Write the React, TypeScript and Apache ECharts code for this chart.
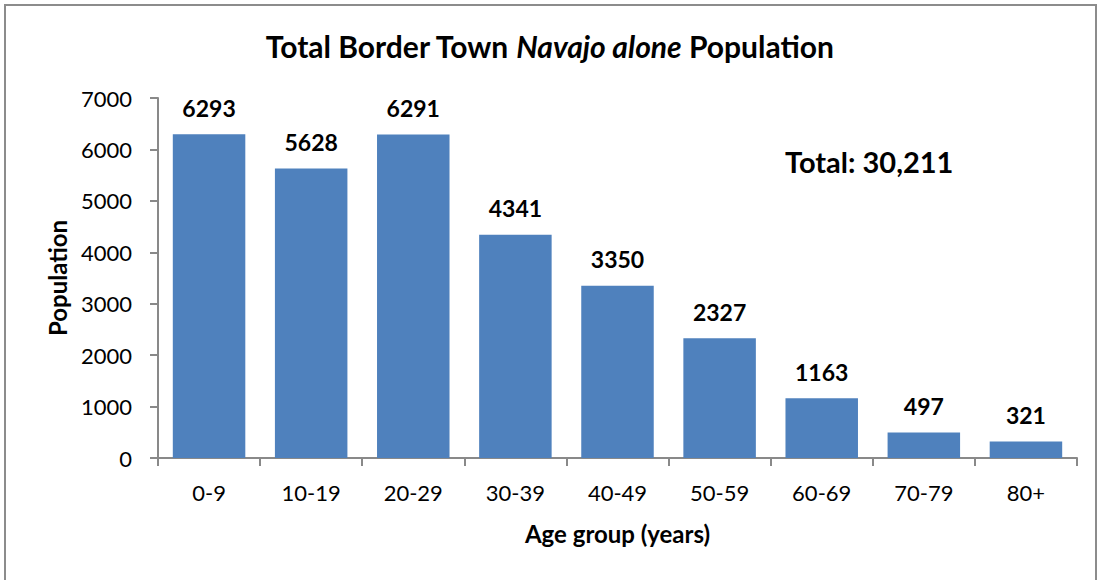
import React, { useEffect, useRef } from "react";
import * as echarts from "echarts";

const categories = ["0-9", "10-19", "20-29", "30-39", "40-49", "50-59", "60-69", "70-79", "80+"];
const population = [6293, 5628, 6291, 4341, 3350, 2327, 1163, 497, 321];
const yTicks = { min: 0, max: 7000, interval: 1000 };
const totalLabel = "Total: 30,211";

const FONT = "Lato, 'Open Sans', sans-serif";

export default function App() {
  const ref = useRef<HTMLDivElement>(null);
  useEffect(() => {
    if (!ref.current) return;
    const chart = echarts.init(ref.current, undefined, { renderer: "svg" });
    chart.setOption({
      animation: false,
      backgroundColor: "#ffffff",
      textStyle: { fontFamily: FONT },
      title: {
        text: "{b|Total Border Town }{i|Navajo alone}{b| Population}",
        left: "center",
        top: 26,
        textStyle: {
          rich: {
            b: { fontFamily: FONT, fontWeight: "bold", fontSize: 30, color: "#000" },
            i: { fontFamily: FONT, fontWeight: "bold", fontStyle: "italic", fontSize: 30, color: "#000" },
          },
        },
      },
      graphic: [
        {
          type: "rect",
          shape: { x: 5, y: 5, width: 1091, height: 620 },
          style: { fill: "none", stroke: "#8c8c8c", lineWidth: 2 },
          silent: true,
        },
        {
          type: "text",
          left: 785,
          top: 147,
          style: { text: totalLabel, fontFamily: FONT, fontWeight: "bold", fontSize: 29, fill: "#000" },
        },
      ],
      grid: { left: 158, right: 22, top: 98, bottom: 122, containLabel: false },
      xAxis: {
        type: "category",
        data: categories,
        name: "Age group (years)",
        nameLocation: "middle",
        nameGap: 63,
        nameTextStyle: { fontFamily: FONT, fontWeight: "bold", fontSize: 24, color: "#000" },
        axisLine: { lineStyle: { color: "#898989", width: 2 } },
        axisTick: { show: true, inside: false, length: 8, alignWithLabel: false, lineStyle: { color: "#898989", width: 2 } },
        axisLabel: { fontFamily: FONT, fontSize: 22, color: "#000", margin: 23 },
      },
      yAxis: {
        type: "value",
        min: yTicks.min,
        max: yTicks.max,
        interval: yTicks.interval,
        name: "Population",
        nameLocation: "middle",
        nameGap: 89,
        nameRotate: 90,
        nameTextStyle: { fontFamily: FONT, fontWeight: "bold", fontSize: 24, color: "#000" },
        axisLine: { show: true, lineStyle: { color: "#898989", width: 2 } },
        axisTick: { show: true, length: 8, lineStyle: { color: "#898989", width: 2 } },
        splitLine: { show: false },
        axisLabel: { fontFamily: FONT, fontSize: 22, color: "#000", margin: 26, formatter: (v: number) => String(v) },
      },
      series: [
        {
          type: "bar",
          data: population,
          barCategoryGap: "29%",
          itemStyle: { color: "#4f81bd" },
          label: {
            show: true,
            position: "top",
            distance: 15,
            fontFamily: FONT,
            fontWeight: "bold",
            fontSize: 23,
            color: "#000",
          },
        },
      ],
    });
    return () => chart.dispose();
  }, []);
  return (
    <div
      ref={ref}
      style={{ position: "fixed", left: 0, top: 0, width: 1099, height: 580, background: "#fff" }}
    />
  );
}
